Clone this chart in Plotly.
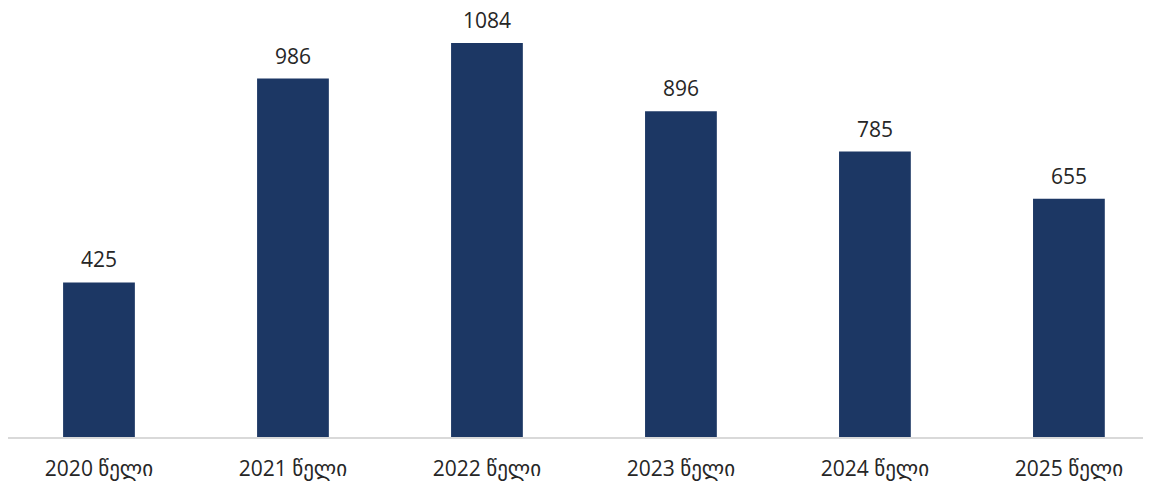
import plotly.graph_objects as go

categories = ["2020 წელი", "2021 წელი", "2022 წელი", "2023 წელი", "2024 წელი", "2025 წელი"]
values = [425, 986, 1084, 896, 785, 655]

BAR_COLOR = "#1C3764"
TEXT_COLOR = "#262626"
FONT = "Open Sans, DejaVu Sans, sans-serif"

fig = go.Figure()
fig.add_trace(go.Bar(
    x=list(range(len(categories))),
    y=values,
    marker=dict(color=BAR_COLOR, line=dict(width=0)),
    width=0.37,
    hoverinfo="skip",
))

for i, v in enumerate(values):
    fig.add_annotation(x=i, y=v, text=str(v), showarrow=False,
                       yanchor="bottom", yshift=7,
                       font=dict(family=FONT, size=21, color=TEXT_COLOR))

fig.update_layout(
    width=1151, height=483,
    margin=dict(l=0, r=9, t=0, b=54),
    plot_bgcolor="white", paper_bgcolor="white",
    showlegend=False,
    font=dict(family=FONT, size=21, color=TEXT_COLOR),
    xaxis=dict(
        range=[-0.469, 5.418],
        tickmode="array",
        tickvals=list(range(len(categories))),
        ticktext=categories,
        showline=True, linecolor="#D9D9D9", linewidth=1.5,
        showgrid=False, zeroline=False, ticks="",
        ticklabelstandoff=12,
        tickfont=dict(family=FONT, size=21, color=TEXT_COLOR),
    ),
    yaxis=dict(
        range=[0, 1180], visible=False, showgrid=False, zeroline=False,
    ),
)

fig.write_html("out.html")
